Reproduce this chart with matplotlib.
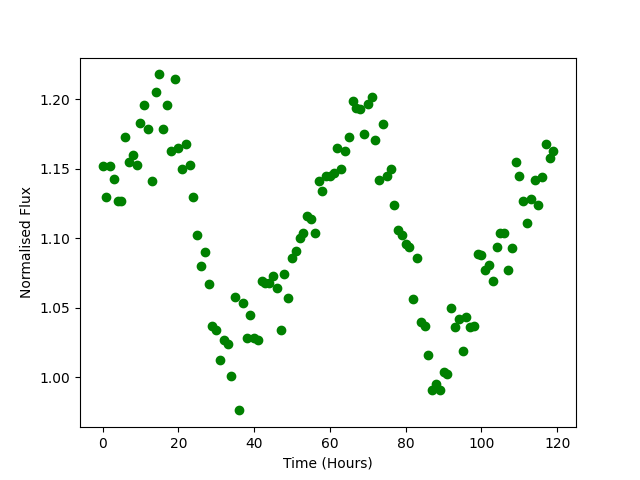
import matplotlib
matplotlib.use("Agg")
import matplotlib.pyplot as plt

hours = list(range(120))
flux = [
    1.152, 1.130, 1.152, 1.143, 1.127, 1.127, 1.173, 1.155, 1.160, 1.153,
    1.183, 1.196, 1.179, 1.141, 1.205, 1.218, 1.179, 1.196, 1.163, 1.215,
    1.165, 1.150, 1.168, 1.153, 1.130, 1.102, 1.080, 1.090, 1.067, 1.037,
    1.034, 1.012, 1.027, 1.024, 1.001, 1.058, 0.976, 1.053, 1.028, 1.045,
    1.028, 1.027, 1.069, 1.068, 1.068, 1.073, 1.064, 1.034, 1.074, 1.057,
    1.086, 1.091, 1.100, 1.104, 1.116, 1.114, 1.104, 1.141, 1.134, 1.145,
    1.145, 1.147, 1.165, 1.150, 1.163, 1.173, 1.199, 1.194, 1.193, 1.175,
    1.197, 1.202, 1.171, 1.142, 1.182, 1.145, 1.150, 1.124, 1.106, 1.102,
    1.096, 1.094, 1.056, 1.086, 1.040, 1.037, 1.016, 0.991, 0.995, 0.991,
    1.004, 1.002, 1.050, 1.036, 1.042, 1.019, 1.043, 1.036, 1.037, 1.089,
    1.088, 1.077, 1.081, 1.069, 1.094, 1.104, 1.104, 1.077, 1.093, 1.155,
    1.145, 1.127, 1.111, 1.128, 1.142, 1.124, 1.144, 1.168, 1.158, 1.163,
]

plt.figure(figsize=(6.4, 4.8), dpi=100)
plt.plot(hours, flux, "o", color="green")
plt.xlabel("Time (Hours)")
plt.ylabel("Normalised Flux")
plt.savefig("out.png")
plt.close()
